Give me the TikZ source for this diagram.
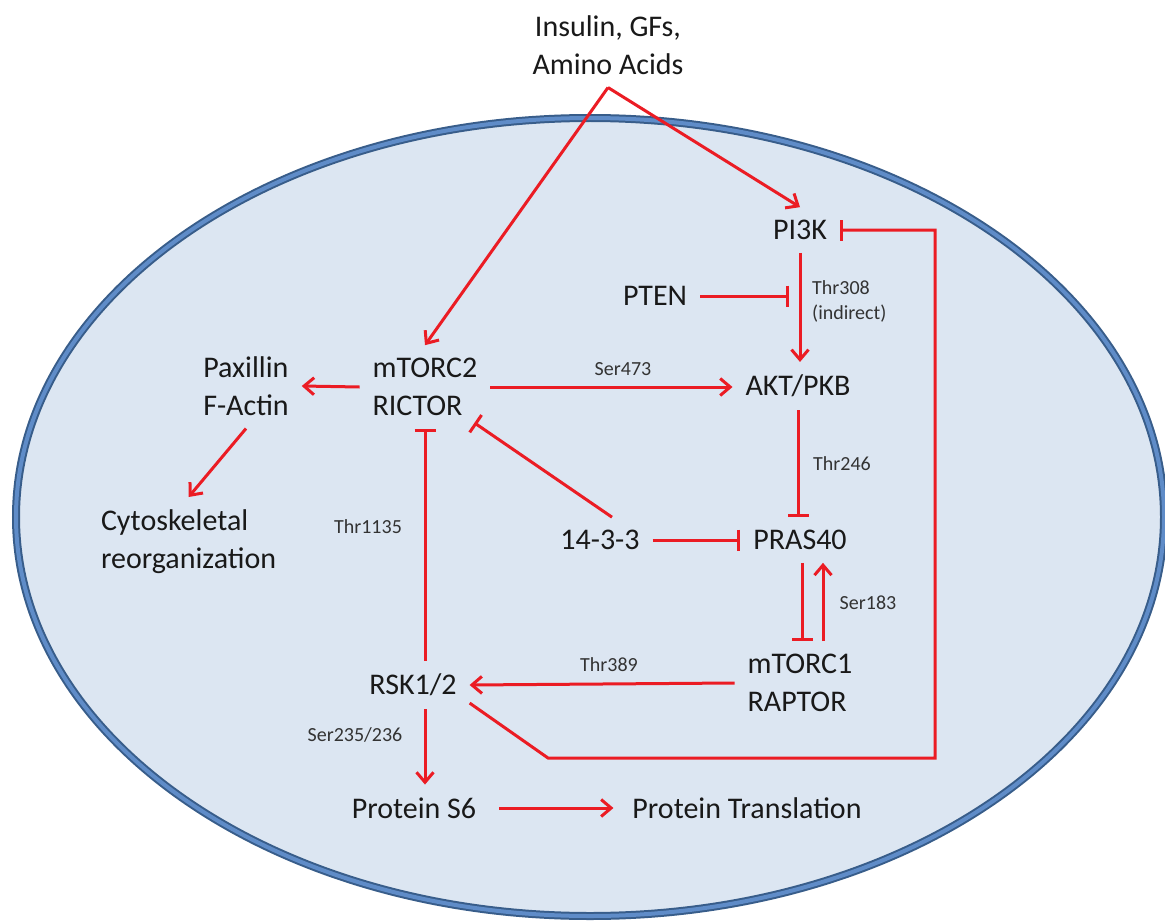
\documentclass[tikz,border=0pt]{standalone}
\usepackage{fontspec}
\setmainfont{Carlito}
\usetikzlibrary{arrows.meta,positioning}
\definecolor{cellfill}{RGB}{220,230,242}
\definecolor{cellrim}{RGB}{56,93,138}
\definecolor{cellrimlight}{RGB}{95,140,200}
\definecolor{pathred}{RGB}{235,28,36}

\begin{document}
\begin{tikzpicture}[x=1pt,y=-1pt,
  prot/.style={inner sep=0pt,outer sep=13pt,font=\fontsize{30}{38}\selectfont,text=black!90},
  site/.style={inner sep=0pt,font=\fontsize{20}{25}\selectfont,text=black!80},
  act/.style={pathred,line width=3pt,-{Straight Barb[length=10pt,width=17pt]}},
  inh/.style={pathred,line width=3pt,-{Bar[width=21pt]}}]
\useasboundingbox (0,0) rectangle (1165,923);
\fill[white] (0,0) rectangle (1165,923);
\draw[cellrim,line width=8pt,fill=cellfill] (590,517) ellipse [x radius=574pt,y radius=399pt];
\draw[cellrimlight,line width=4pt] (590,517) ellipse [x radius=574pt,y radius=399pt];

\node[prot,align=center] (insulin) at (608,45) {Insulin, GFs,\\Amino Acids};
\node[prot] (pi3k) at (800,230) {PI3K};
\node[prot] (pten) at (655,296) {PTEN};
\node[prot] (akt) at (798,386) {AKT/PKB};
\node[prot,align=left] (mtorc2) at (425,387) {mTORC2\\RICTOR};
\node[prot,align=left] (paxillin) at (246,386) {Paxillin\\F-Actin};
\node[prot,align=left,anchor=west] (cyto) at (88,542) {Cytoskeletal\\reorganization};
\node[prot] (fourteen) at (600,540) {14-3-3};
\node[prot] (pras) at (800,540) {PRAS40};
\node[prot,align=left] (mtorc1) at (800,683) {mTORC1\\RAPTOR};
\node[prot] (rsk) at (413,685) {RSK1/2};
\node[prot] (s6) at (414,808) {Protein S6};
\node[prot] (transl) at (747,808) {Protein Translation};

\node[site] (ser473) at (623,369) {Ser473};
\node[site,align=left,anchor=west] (thr308) at (812,301) {Thr308\\(indirect)};
\node[site] (thr246) at (842,464) {Thr246};
\node[site] (ser183) at (868,603) {Ser183};
\node[site] (thr1135) at (368,527) {Thr1135};
\node[site] (thr389) at (609,665) {Thr389};
\node[site] (ser235) at (355,735) {Ser235/236};

\coordinate (ptenhit) at (789,296);
\coordinate (fbturn) at (548,758);
\coordinate (fbside) at (935,758);

\draw[act] (insulin.south) -- (mtorc2.north);
\draw[act] (insulin.south) -- (pi3k.north);
\draw[act] (mtorc2.west) -- (paxillin.east);
\draw[act] (paxillin.south) -- (cyto.north);
\draw[act] (mtorc2.east) -- (mtorc2.east -| akt.west);
\draw[act] (pi3k.south) -- (pi3k.south |- akt.north);
\draw[inh] (pten.east) -- (ptenhit);
\draw[inh] (akt.south) -- (akt.south |- pras.north);
\draw[inh] (fourteen.east) -- (pras.west);
\draw[inh] ([xshift=12pt]fourteen.north) -- ([xshift=-16pt,yshift=6pt]mtorc2.south east);
\draw[inh] ([xshift=2pt]pras.south) -- ([xshift=2pt]pras.south |- mtorc1.north);
\draw[act] ([xshift=23pt]mtorc1.north) -- ([xshift=23pt]mtorc1.north |- pras.south);
\draw[act] (mtorc1.west) -- (rsk.east);
\draw[inh] (rsk.north -| mtorc2.south) -- (mtorc2.south);
\draw[act] (rsk.south -| mtorc2.south) -- (s6.north -| mtorc2.south);
\draw[act] ([xshift=10pt]s6.east) -- ([xshift=-6pt]transl.west);
\draw[inh] ([yshift=6pt]rsk.south east) -- (fbturn) -- (fbside) |- (pi3k.east);
\end{tikzpicture}
\end{document}
